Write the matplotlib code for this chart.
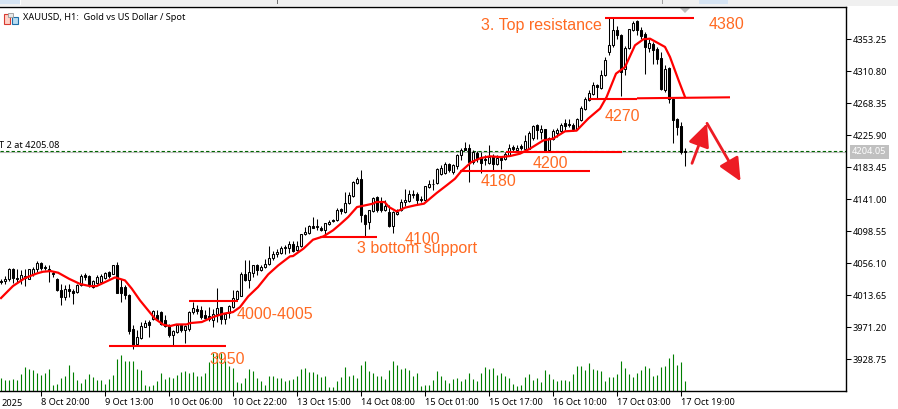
import matplotlib
matplotlib.use('Agg')
import matplotlib.pyplot as plt
from matplotlib.patches import Rectangle, Polygon

W, H = 898, 409

open_px = [
    4033, 4033, 4035, 4049, 4036, 4035.6, 4039, 4035.6, 4042, 4048,
    4056, 4051, 4049, 4043.6, 4035.6, 4020.6, 4011.3, 4022.4, 4019.7, 4018,
    4026.8, 4040, 4039.2, 4024.6, 4030.3, 4031.2, 4036.5, 4044.5, 4042.3, 4053.3,
    4024.6, 4024.6, 4014.4, 3968.4, 3949.4, 3957.3, 3972, 3978.2, 3981.7, 3987,
    3991.4, 3980.3, 3973.7, 3960.5, 3965, 3974, 3967, 3969, 3991.4, 3995.8,
    3993.6, 3987, 3985.7, 3980.4, 3988.3, 3998, 3982.6, 3990.1, 3998, 4009.1,
    4013.1, 4042.3, 4034.3, 4043.2, 4053.3, 4046.7, 4051.1, 4054.7, 4063.1, 4068.8,
    4069.7, 4076.3, 4076.3, 4081.2, 4073.3, 4078.6, 4094.5, 4096.2, 4105.1, 4103.8,
    4103.3, 4099.8, 4108.6, 4114, 4113, 4127.6, 4124.1, 4136, 4144.9, 4162.6,
    4167.4, 4120.6, 4110.8, 4125.4, 4144, 4137.4, 4127.2, 4124.1, 4105.1, 4121,
    4126.3, 4137.4, 4138.7, 4146.2, 4148.4, 4141.8, 4140.5, 4157.3, 4160.8, 4162.6,
    4175, 4175.8, 4187.3, 4177.2, 4184.7, 4199.3, 4208.6, 4208.6, 4190.4, 4202.8,
    4197.1, 4194.9, 4189.6, 4198.4, 4188.2, 4195.8, 4194.9, 4199.3, 4210.4, 4207,
    4211.7, 4208.2, 4208.2, 4222.3, 4240, 4230.3, 4233.8, 4206, 4221.4, 4229.4,
    4231.2, 4242.7, 4241.4, 4240, 4234.7, 4245.8, 4261.3, 4272.3, 4281.2, 4293.1,
    4288.7, 4306.4, 4336.4, 4345.3, 4365.2, 4358.6, 4314.3, 4341.8, 4365.2, 4377.1,
    4365.2, 4360.8, 4341.8, 4347.5, 4340.9, 4328.5, 4285.6, 4315.2, 4274.5, 4248,
    4237.8, 4204.5,
]
close_px = [
    4031.5, 4035.6, 4049, 4036.5, 4035.5, 4040, 4036.5, 4048, 4049, 4057,
    4050, 4050, 4045.4, 4041.8, 4020.6, 4011.3, 4022.4, 4019.7, 4017, 4026.8,
    4039.2, 4037.4, 4027.7, 4032, 4038.3, 4039.2, 4043.6, 4039.2, 4053.3, 4017,
    4017, 4013.5, 3965.8, 3948, 3958.2, 3972.8, 3976.4, 3974.6, 3992.3, 3981.7,
    3976, 3972.8, 3960.5, 3965.8, 3974, 3967, 3973, 3992, 3996.7, 3992.8,
    3984.8, 3983.9, 3981.7, 3988.3, 3997.2, 3982.6, 3988.3, 3998.9, 4010.4, 4019.3,
    4042.3, 4033.4, 4044, 4053.3, 4046.7, 4051.1, 4055.6, 4063.5, 4068.8, 4070.6,
    4076.8, 4077.7, 4081.2, 4072.4, 4079.4, 4094.5, 4097.6, 4105.1, 4103.3, 4105,
    4099.8, 4109.5, 4110.8, 4112.6, 4127.2, 4125, 4136.5, 4146.2, 4163.9, 4167.4,
    4120.6, 4108.6, 4126.3, 4143.1, 4126.3, 4126.3, 4131.6, 4105.5, 4124.1, 4124.1,
    4137.4, 4140.5, 4147.5, 4148.4, 4139.6, 4139.6, 4158.2, 4160.8, 4161.7, 4181.6,
    4182.9, 4187.3, 4179.4, 4186, 4199.3, 4206.8, 4206.8, 4190.4, 4203.7, 4196.2,
    4189.6, 4192.7, 4197.1, 4188.2, 4196.2, 4192.7, 4201.5, 4209.5, 4208.2, 4208.7,
    4209, 4217.9, 4229.4, 4238.3, 4232.5, 4234.7, 4204.6, 4222.3, 4231.2, 4232.5,
    4240, 4238.3, 4239.2, 4234, 4247.1, 4262.1, 4274.5, 4282.5, 4293.1, 4290,
    4306.4, 4325.4, 4346.2, 4365.2, 4358.6, 4309.9, 4341.8, 4366.5, 4375.4, 4365.2,
    4357.7, 4343, 4348.8, 4338.7, 4326.7, 4286.9, 4314.3, 4274.5, 4245.8, 4236.9,
    4203.8, 4204.05,
]
high_px = [
    4035, 4039, 4049.5, 4049.5, 4049, 4047, 4049, 4048.5, 4051, 4059,
    4058, 4054, 4054.5, 4045.8, 4036, 4029, 4027, 4029, 4022.4, 4029,
    4041.8, 4043.6, 4041, 4033.4, 4041, 4042.3, 4044.5, 4046, 4054, 4057.8,
    4035.6, 4027, 4015.7, 3973.7, 3967, 3978, 3980.3, 3980.3, 3993.6, 3993.6,
    3992.3, 3987, 3975.9, 3967, 3975, 3975, 3974, 3993, 4004.7, 4000.3,
    3998.9, 3993.6, 3998, 3995.8, 4023.3, 3998, 3989.2, 4000.7, 4021, 4020.2,
    4044.5, 4060, 4060, 4054.2, 4055.6, 4053.3, 4062.2, 4078.6, 4072.4, 4075.5,
    4078.6, 4079.9, 4085.6, 4085.2, 4085.6, 4095.4, 4104.2, 4106.4, 4117.5, 4115.3,
    4105.1, 4109.5, 4113, 4115.3, 4129.9, 4129.9, 4150.6, 4150.6, 4164.8, 4170.5,
    4179.4, 4121.9, 4127.2, 4144, 4144.9, 4144, 4139.6, 4133, 4125, 4128.5,
    4141.8, 4155, 4153.7, 4152.8, 4150.6, 4145.8, 4159, 4166.1, 4168.3, 4182.5,
    4186, 4190.4, 4189.1, 4187.3, 4200.6, 4209.5, 4217, 4214.8, 4205.9, 4205,
    4203.7, 4199.3, 4212.6, 4201.5, 4199.3, 4199, 4203.7, 4213.9, 4213.5, 4212.6,
    4214.8, 4226.8, 4231.6, 4240, 4241.4, 4239.2, 4234.7, 4223.7, 4233.8, 4235.6,
    4242.7, 4248, 4248, 4242.7, 4248.9, 4264.8, 4276.7, 4285.6, 4296.6, 4294.4,
    4312.1, 4329.8, 4381, 4381, 4371, 4360.8, 4344.4, 4367.4, 4378, 4378.5,
    4369.6, 4363, 4354.1, 4349.7, 4343, 4336.4, 4319, 4316.5, 4275.4, 4248.9,
    4243.6, 4209,
]
low_px = [
    4029, 4029, 4033, 4030, 4031, 4029, 4026, 4035, 4039, 4045,
    4047, 4047, 4031, 4038, 4020, 4001, 4007, 4011, 4002.5, 4017,
    4026.5, 4033.4, 4024.6, 4023, 4029, 4030.3, 4035.5, 4037, 4042, 4017,
    4004.7, 4009, 3962.6, 3942.8, 3948, 3956, 3971.9, 3958.2, 3980.3, 3981.7,
    3973.7, 3971.9, 3958.2, 3946.3, 3964, 3965, 3951, 3966, 3989.2, 3989.2,
    3982.6, 3982.6, 3979.5, 3971.5, 3978.2, 3975, 3975, 3983.9, 3997.2, 4006.9,
    4012.2, 4032.6, 4023.7, 4037.9, 4040.1, 4045.4, 4050.2, 4053.8, 4060, 4064.4,
    4068.8, 4068.8, 4069.7, 4071, 4072.4, 4077.7, 4093.2, 4095.4, 4103.3, 4099.8,
    4098.9, 4095.4, 4106.4, 4110.8, 4112.2, 4121.9, 4123.2, 4135.2, 4144, 4161.7,
    4110.8, 4091.8, 4102, 4124.1, 4124.1, 4124.1, 4125.4, 4104.2, 4096.2, 4119.7,
    4125.4, 4131.6, 4137.4, 4143.1, 4134.3, 4137.4, 4138.7, 4156.4, 4152.9, 4160.8,
    4172.8, 4174.1, 4177.2, 4175, 4181.6, 4192.7, 4206, 4163.9, 4188.2, 4190.4,
    4175.8, 4186, 4188.2, 4179.4, 4186, 4181, 4193.5, 4198, 4203.8, 4204.7,
    4206, 4206, 4207.3, 4219.2, 4221.4, 4220.6, 4203.8, 4204.7, 4219.2, 4223.7,
    4229.4, 4232.5, 4236.9, 4231.2, 4232.5, 4244.4, 4259.1, 4271, 4279, 4275.4,
    4287.8, 4304.6, 4332.9, 4343, 4354.1, 4278, 4305.5, 4340.9, 4363.9, 4359.5,
    4354.1, 4307.7, 4336.4, 4321, 4321, 4286, 4284, 4269.2, 4216.2, 4225.9,
    4201.6, 4185.2,
]
volume = [
    13, 11, 11, 12, 11, 17, 24, 22, 21, 18, 16, 18, 22, 6, 7, 13, 15, 26, 19, 11,
    8, 12, 17, 14, 11, 11, 7, 12, 16, 32, 36, 30, 30, 30, 22, 21, 6, 5, 6, 10,
    18, 12, 14, 13, 16, 19, 20, 18, 19, 15, 15, 18, 29, 38, 38, 38, 30, 25,
    23, 9, 8, 13, 22, 20, 13, 10, 6, 15, 15, 13, 13, 10, 11, 12, 15, 22, 23, 19,
    19, 17, 14, 15, 4, 4, 10, 14, 24, 15, 16, 13, 26, 30, 20, 18, 15, 15, 12, 21,
    30, 26, 22, 23, 21, 15, 18, 5, 6, 6, 11, 20, 15, 11, 8, 12, 13,
    10, 12, 18, 12, 10, 18, 24, 22, 23, 16, 18, 15, 13, 7, 5, 6, 14, 17, 11, 13,
    9, 21, 17, 12, 10, 11, 11, 10, 17, 25, 25, 21, 28, 22, 21, 20, 10, 14, 14, 17,
    30, 23, 17, 14, 18, 21, 25, 23, 15, 16, 24, 25, 33, 37, 26, 29, 10,
]

ma_bar = [
    0, 3, 6, 9, 10.5, 12.4, 14.3, 17, 19.8, 22.2, 23.9, 26.4, 28.5, 31, 32.7, 34.75,
    36.8, 38.5, 40.6, 42.25, 43.9, 46.4, 47.25, 50.2, 53, 55.6, 58, 59.75, 61.8, 64.25,
    66.8, 69.3, 72.25, 73, 75.6, 78, 80.6, 83, 84.75, 86.8, 89, 93, 93.8, 95.9, 97,
    98.9, 100, 101, 103.5, 105.75, 108.9, 111.4, 113.5, 115, 117.6, 120, 122.25, 125,
    127.25, 129.75, 132.25, 135.6, 138, 141, 143.9, 146.8, 149.75, 151.4, 153.75, 156,
    158.5, 160.6, 162.25, 166, 167.25, 169.4, 171,
]
ma_price = [
    4010, 4026, 4036.5, 4042.7, 4044.9, 4045.8, 4043.6, 4035.6, 4028.6, 4025.9, 4025.9,
    4032.1, 4037.4, 4033.4, 4022.4, 4006.9, 3993.6, 3982.6, 3974.6, 3972.8, 3975, 3975,
    3976.8, 3978.2, 3984.8, 3989.2, 3991.4, 3998, 4012.2, 4024.6, 4041.4, 4053.3, 4065.3,
    4065.7, 4075.5, 4087.4, 4091.8, 4099.8, 4107.7, 4117.5, 4130.7, 4135.2, 4137.4, 4137.4,
    4130.7, 4125, 4127.2, 4129.9, 4133, 4135.2, 4149.3, 4159.5, 4168.3, 4178, 4190.4,
    4195.8, 4198, 4197, 4198.4, 4201.5, 4208.2, 4219.2, 4221.4, 4231.2, 4232.1, 4248,
    4261.3, 4276.7, 4307.7, 4316.5, 4345.3, 4353.3, 4354.1, 4343.1, 4329.8, 4298.8, 4276.7,
]

# hand drawn levels: start bar, end bar, price at start, price at end
level_start = [27, 47, 79.75, 114.75, 126.25, 147, 159, 151]
level_end = [56.25, 59.25, 94, 147.25, 155.2, 159, 182.25, 173.25]
level_price0 = [3946, 4005.6, 4090.9, 4178, 4203.7, 4273.6, 4275, 4381.5]
level_price1 = [3946, 4005.6, 4090.9, 4178, 4203.7, 4273.6, 4276.3, 4381.5]

note_text = ['3. Top resistance', '4380', '4270', '4200', '4180', '4100',
             '3 bottom support', '4000-4005', '3950']
note_bar = [120, 177, 151, 133, 120, 101, 89, 59, 52]
note_price = [4371.8, 4373.2, 4251, 4188.7, 4164.8, 4087.8, 4075.9, 3988.3, 3928.6]

arrow_bar = [172.75, 176.5, 184.9]
arrow_price = [4188.7, 4241.8, 4164.8]

price_ticks = [4353.25, 4310.80, 4268.35, 4225.90, 4183.45, 4141.00,
               4098.55, 4056.10, 4013.65, 3971.20, 3928.75]
time_ticks = [10, 26, 42, 58, 74, 90, 106, 122, 138, 154, 170]
time_labels = ['8 Oct 20:00', '9 Oct 13:00', '10 Oct 06:00', '10 Oct 22:00', '13 Oct 15:00',
               '14 Oct 08:00', '15 Oct 01:00', '15 Oct 17:00', '16 Oct 10:00',
               '17 Oct 03:00', '17 Oct 19:00']
last_price = 4204.05
order_price = 4205.08

ui_font = 'Noto Sans'
ui_size = 6.6
note_color = '#FF6A22'
red = '#FF0000'

fig = plt.figure(figsize=(W / 100, H / 100), dpi=100, facecolor='white')
pane = [0, 1 - 391 / H, 846 / W, (391 - 7) / H]

ax_vol = fig.add_axes(pane, zorder=1)
ax_vol.set_xlim(-0.25, 211.25)
ax_vol.set_ylim(0, 384)
ax_vol.axis('off')
ax_vol.vlines(range(len(volume)), 0, volume, color='#007F00', lw=0.8)

ax = fig.add_axes(pane, zorder=2)
ax.patch.set_alpha(0)
ax.set_xlim(-0.25, 211.25)
ax.set_ylim(3886.7, 4396.1)

# order line and last price line
ax.axhline(last_price, color='#C0C0C0', lw=0.8, zorder=1)
ax.axhline(order_price, color='#006400', lw=0.8, ls=(0, (3, 2)), zorder=1)

# candles
bars = range(len(open_px))
ax.vlines(bars, low_px, high_px, color='black', lw=0.75, zorder=2)
for i in bars:
    o, c = open_px[i], close_px[i]
    fill = 'white' if c >= o else 'black'
    ax.bar(i, max(abs(c - o), 0.4), bottom=min(o, c), width=0.5, color=fill,
           edgecolor='black', lw=0.75, zorder=3)

ax.plot(ma_bar, ma_price, color=red, lw=1.6, zorder=4, solid_joinstyle='round')

for s, e, p0, p1 in zip(level_start, level_end, level_price0, level_price1):
    ax.plot([s, e], [p0, p1], color=red, lw=1.5, zorder=5, solid_capstyle='butt')

for a in range(2):
    ax.annotate('', xy=(arrow_bar[a + 1], arrow_price[a + 1]),
                xytext=(arrow_bar[a], arrow_price[a]),
                arrowprops=dict(arrowstyle='-|>,head_length=1.4,head_width=0.65',
                                mutation_scale=10, color='#ED1C24', lw=2,
                                shrinkA=0, shrinkB=0), zorder=6)

for t, b, p in zip(note_text, note_bar, note_price):
    ax.text(b, p, t, color=note_color, family='Liberation Sans', fontsize=11.5,
            va='center', ha='left', zorder=7)

for side in ['left']:
    ax.spines[side].set_visible(False)
for side in ['top', 'right', 'bottom']:
    ax.spines[side].set_linewidth(1.0)

ax.yaxis.tick_right()
ax.set_yticks(price_ticks)
ax.set_yticklabels(['%.2f' % p for p in price_ticks], family=ui_font, fontsize=ui_size)
ax.tick_params(axis='y', length=3.5, width=0.75, pad=1.5)
ax.set_xticks(time_ticks)
ax.set_xticklabels(time_labels, family=ui_font, fontsize=ui_size, ha='left')
ax.tick_params(axis='x', length=3.5, width=0.75, pad=1.5)

axis_y = ax.get_xaxis_transform()
ax.text(0.25, -0.0205, '2025', transform=axis_y, family=ui_font, fontsize=ui_size, va='top', ha='left')

# last price tag on the price scale
tag_y = ax.get_yaxis_transform()
ax.text(1.007, last_price, '%.2f' % last_price, transform=tag_y, family=ui_font, fontsize=ui_size,
        color='white', va='center', ha='left',
        bbox=dict(boxstyle='square,pad=0.25', fc='#C0C0C0', ec='none'))

# chart title and order label
ax.text(23 / 846, 1 - 11 / 384, 'XAUUSD, H1:  Gold vs US Dollar / Spot', transform=ax.transAxes,
        family=ui_font, fontsize=ui_size, va='center', ha='left', zorder=8)
ax.text(-1 / 846, order_price + 1.5, 'T 2 at 4205.08', transform=tag_y, family=ui_font,
        fontsize=ui_size, va='bottom', ha='left', zorder=8)


def box(x0, y0, x1, y1, **kw):
    fig.add_artist(Rectangle((x0 / W, 1 - y1 / H), (x1 - x0) / W, (y1 - y0) / H,
                             transform=fig.transFigure, **kw))


# window strip above the chart
box(0, 0, W, 6, fc='#F0F0F0', ec='none')
box(0, 0, 20, 4, fc='#D6E4F3', ec='none')
box(20, 0, 21, 5, fc='white', ec='none')
box(277, 0, 278, 4, fc='#707070', ec='none')
box(662, 0, 663, 4, fc='#A0A0A0', ec='none')
box(699, 0, 728, 4, fc='#D6E4F3', ec='none')
fig.add_artist(Polygon([(680 / W, 1 - 8 / H), (690 / W, 1 - 8 / H), (685 / W, 1 - 13 / H)],
                       transform=fig.transFigure, fc='#BEBEBE', ec='none'))

# chart type icon
box(3.5, 14, 9.5, 23.5, fc='#FFD2C8', ec='#D83A30', lw=0.8)
box(11.5, 17, 17.5, 23.5, fc='#B9DDF2', ec='#1F6FA8', lw=0.8)
box(8, 13, 13, 16.5, fc='#E8E8E8', ec='#999999', lw=0.6)

fig.savefig('out.png', dpi=100)
